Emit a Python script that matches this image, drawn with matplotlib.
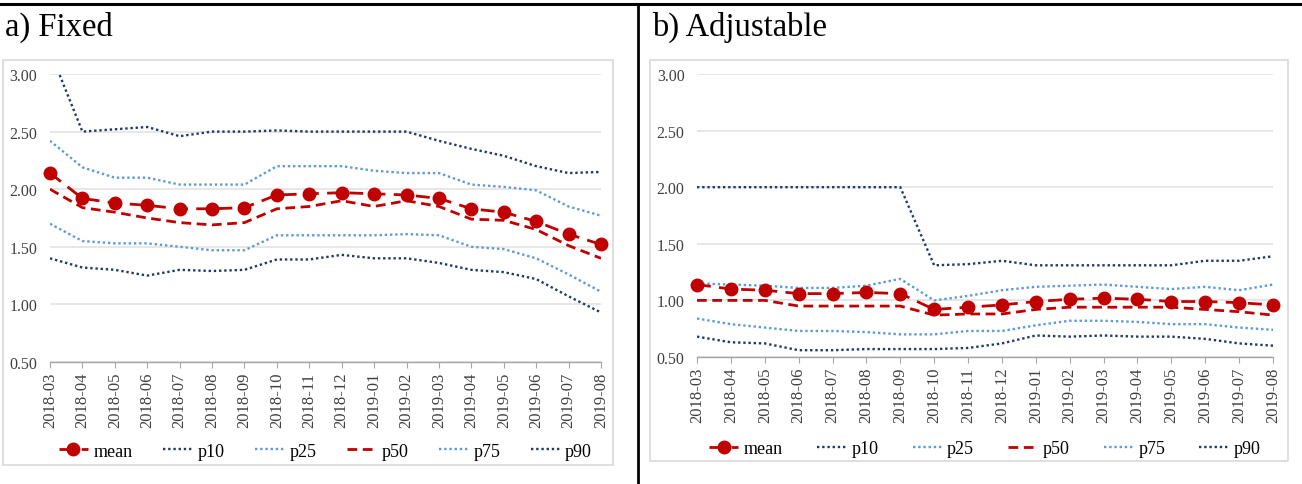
import matplotlib
matplotlib.use("Agg")
import matplotlib.pyplot as plt
from matplotlib.lines import Line2D
from matplotlib.patches import Rectangle

plt.rcParams['font.family'] = ['Liberation Serif', 'DejaVu Serif']

months = ["2018-03", "2018-04", "2018-05", "2018-06", "2018-07", "2018-08", "2018-09",
          "2018-10", "2018-11", "2018-12", "2019-01", "2019-02", "2019-03", "2019-04",
          "2019-05", "2019-06", "2019-07", "2019-08"]
yticks = [0.50, 1.00, 1.50, 2.00, 2.50, 3.00]

# a) Fixed
fixed_mean = [2.14, 1.92, 1.88, 1.86, 1.83, 1.83, 1.84, 1.95, 1.96, 1.97, 1.96, 1.95, 1.92, 1.83, 1.80, 1.72, 1.61, 1.52]
fixed_p10 = [1.40, 1.32, 1.30, 1.25, 1.30, 1.29, 1.30, 1.39, 1.39, 1.43, 1.40, 1.40, 1.36, 1.30, 1.28, 1.22, 1.07, 0.93]
fixed_p25 = [1.70, 1.55, 1.53, 1.53, 1.50, 1.47, 1.47, 1.60, 1.60, 1.60, 1.60, 1.61, 1.60, 1.50, 1.48, 1.40, 1.26, 1.11]
fixed_p50 = [2.00, 1.84, 1.80, 1.75, 1.71, 1.69, 1.71, 1.83, 1.85, 1.90, 1.85, 1.90, 1.85, 1.74, 1.73, 1.65, 1.51, 1.40]
fixed_p75 = [2.42, 2.19, 2.10, 2.10, 2.04, 2.04, 2.04, 2.20, 2.20, 2.20, 2.16, 2.14, 2.14, 2.04, 2.02, 1.99, 1.85, 1.77]
fixed_p90 = [3.20, 2.50, 2.52, 2.54, 2.46, 2.50, 2.50, 2.51, 2.50, 2.50, 2.50, 2.50, 2.42, 2.35, 2.29, 2.20, 2.14, 2.15]

# b) Adjustable
adj_mean = [1.14, 1.10, 1.09, 1.06, 1.06, 1.07, 1.06, 0.92, 0.94, 0.96, 0.99, 1.01, 1.02, 1.01, 0.99, 0.99, 0.98, 0.96]
adj_p10 = [0.68, 0.63, 0.62, 0.56, 0.56, 0.57, 0.57, 0.57, 0.58, 0.62, 0.69, 0.68, 0.69, 0.68, 0.68, 0.66, 0.62, 0.60]
adj_p25 = [0.84, 0.79, 0.76, 0.73, 0.73, 0.72, 0.70, 0.70, 0.73, 0.73, 0.78, 0.82, 0.82, 0.81, 0.79, 0.79, 0.76, 0.74]
adj_p50 = [1.00, 1.00, 1.00, 0.95, 0.95, 0.95, 0.95, 0.87, 0.88, 0.88, 0.92, 0.94, 0.94, 0.94, 0.94, 0.92, 0.90, 0.87]
adj_p75 = [1.15, 1.14, 1.13, 1.11, 1.11, 1.13, 1.19, 1.00, 1.04, 1.09, 1.12, 1.13, 1.14, 1.12, 1.10, 1.12, 1.09, 1.14]
adj_p90 = [2.00, 2.00, 2.00, 2.00, 2.00, 2.00, 2.00, 1.31, 1.32, 1.35, 1.31, 1.31, 1.31, 1.31, 1.31, 1.35, 1.35, 1.39]

RED = "#C00000"
NAVY = "#203864"
LBLUE = "#5B9BD5"
GRID = "#E3E3E3"
AXC = "#A6A6A6"

W, H = 1302, 485
fig = plt.figure(figsize=(W / 100, H / 100), dpi=100)

def fx(px):
    return px / W

def fy(py):
    return 1 - py / H

# black frame lines
fig.add_artist(Line2D([0, 1], [fy(5), fy(5)], color="black", lw=2.2, transform=fig.transFigure))
fig.add_artist(Line2D([fx(638), fx(638)], [fy(5), 0], color="black", lw=2.0, transform=fig.transFigure))

# chart boxes
for (x0, y0, x1, y1) in [(3, 61, 613, 466), (650, 61, 1288, 462)]:
    fig.add_artist(Rectangle((fx(x0), fy(y1)), fx(x1 - x0), (y1 - y0) / H,
                             transform=fig.transFigure, facecolor="white",
                             edgecolor="#D9D9D9", lw=1.2, zorder=0))

fig.text(fx(5), fy(27), "a) Fixed", fontsize=23.5, va="center", ha="left")
fig.text(fx(652), fy(27), "b) Adjustable", fontsize=23.5, va="center", ha="left")


def draw(rect, mean, p10, p25, p50, p75, p90, leg_y, colsp):
    ax = fig.add_axes(rect)
    x = list(range(len(months)))
    ax.set_facecolor("none")
    ax.plot(x, p10, color=NAVY, lw=1.7, ls=(0, (1, 1.2)), label="p10")
    ax.plot(x, p25, color=LBLUE, lw=1.7, ls=(0, (1, 1.2)), label="p25")
    ax.plot(x, p50, color=RED, lw=2.0, ls=(0, (3.5, 2)), label="p50")
    ax.plot(x, p75, color=LBLUE, lw=1.7, ls=(0, (1, 1.2)), label="p75")
    ax.plot(x, p90, color=NAVY, lw=1.7, ls=(0, (1, 1.2)), label="p90")
    ax.plot(x, mean, color=RED, lw=2.0, ls=(0, (5, 3)), marker="o", markersize=9,
            markerfacecolor=RED, markeredgecolor=RED, label="mean", clip_on=False, zorder=5)
    ax.set_xlim(0, len(months) - 1)
    ax.set_ylim(0.5, 3.0)
    ax.set_yticks(yticks)
    ax.set_yticklabels([f"{v:.2f}" for v in yticks], fontsize=11.5)
    ax.set_xticks(x)
    ax.set_xticklabels(months, rotation=90, fontsize=12)
    for s in ["top", "right", "left"]:
        ax.spines[s].set_visible(False)
    ax.spines["bottom"].set_color(AXC)
    ax.spines["bottom"].set_linewidth(1.0)
    ax.tick_params(axis="y", length=0, pad=9, labelcolor="#404040")
    ax.tick_params(axis="x", length=4, color=AXC, pad=3, labelcolor="#404040")
    ax.set_axisbelow(True)
    ax.yaxis.grid(True, color=GRID, lw=1.2)
    handles, labels = ax.get_legend_handles_labels()
    order = ["mean", "p10", "p25", "p50", "p75", "p90"]
    hd = {l: h for h, l in zip(handles, labels)}
    ax.legend([hd[o] for o in order], order, loc="center", bbox_to_anchor=(0.5, leg_y),
              ncol=6, frameon=False, fontsize=13, handlelength=1.6, handletextpad=0.3,
              columnspacing=colsp)
    return ax


draw([fx(50), fy(363), fx(601 - 50), (363 - 75) / H],
     fixed_mean, fixed_p10, fixed_p25, fixed_p50, fixed_p75, fixed_p90, -0.31, 1.7)
draw([fx(697), fy(358), fx(1273 - 697), (358 - 75) / H],
     adj_mean, adj_p10, adj_p25, adj_p50, adj_p75, adj_p90, -0.325, 1.9)

fig.savefig("out.png", dpi=100)
